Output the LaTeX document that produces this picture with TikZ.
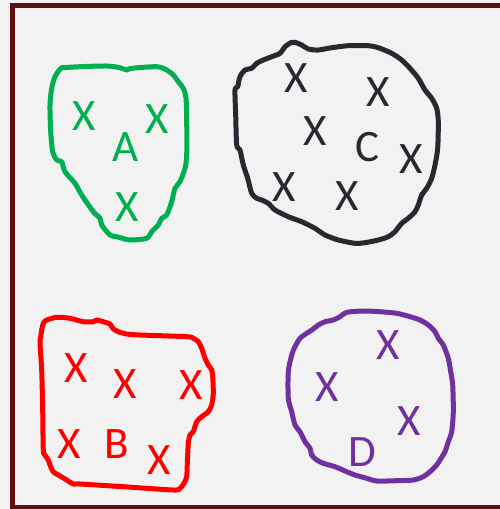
\documentclass[tikz,border=0pt]{standalone}
\usepackage{fontspec}
\setmainfont{Carlito}
\usepackage{tikz}

\definecolor{framered}{RGB}{96,16,16}
\definecolor{paper}{RGB}{242,242,242}
\definecolor{clgreen}{RGB}{0,176,80}
\definecolor{clred}{RGB}{255,0,0}
\definecolor{clpurple}{RGB}{112,48,160}
\definecolor{cldark}{RGB}{40,40,48}

\begin{document}
\begin{tikzpicture}[x=1pt,y=-1pt,font=\fontsize{45}{45}\selectfont,
  blob/.style={line width=5pt,line join=round}]
  % sheet and frame
  \fill[paper] (0,0) rectangle (500,509);
  \clip (0,0) rectangle (500,509);
  \draw[framered,line width=5pt,fill=paper] (12.5,5.5) rectangle (520,507);
  % cluster A
  \draw[blob,clgreen] plot[smooth cycle,tension=0.45] coordinates {
    (60.7,68.3) (55,76.7) (51.7,88.3) (50,105) (50.7,131.7) (52.7,151.7) (56.7,160) (61.7,161.7)
    (65,171.7) (75,183.3) (81.7,195) (93.3,211.7) (100,218.3) (101.7,225) (110,235) (116.7,236.7)
    (130,240) (146.7,238.3) (151.7,231.7) (158.3,225) (161.7,218.3) (166.7,215) (171.7,201.7)
    (175,188.3) (180,181.7) (185,168.3) (186.7,155) (186.7,121.7) (186,98.3) (183.3,88.3)
    (178.3,81.7) (173.3,75) (166.7,70) (156.7,66.7) (131.7,68.3) (126.7,70) (120,67.7)
    (106.7,66) (80,66.7) (63.3,67.7)};
  \foreach \x/\y/\n in {84/116/1,157/119/2,127/207/3} {\node[clgreen] (a\n) at (\x,\y) {X};}
  \node[clgreen] (labA) at (126,147) {A};
  % cluster C
  \draw[blob,cldark] plot[smooth cycle,tension=0.45] coordinates {
    (291.7,42.3) (285,46.7) (280,53.3) (271.7,56.7) (263.3,60) (256.7,63.3) (251.7,68.3) (245,70)
    (240,76.7) (237.7,86.7) (235,90) (235.7,115) (236.7,145) (240,150) (243.3,165) (247.7,178.3)
    (251.7,193.3) (256.7,198.3) (261.7,200) (268.3,203.3) (275,210) (288.3,216.7) (301.7,221.7)
    (315,228.3) (325,235) (338.3,240) (355,243.3) (365,242.7) (378.3,240) (388.3,236.7)
    (395,231.7) (401.7,223.3) (408.3,218.3) (415,211.7) (418.3,205) (421.7,195) (426.7,188.3)
    (431.7,178.3) (435,165) (437.7,148.3) (438.3,121.7) (436.7,108.3) (431.7,98.3) (425,90)
    (418.3,78.3) (410,68.3) (401.7,60) (391.7,53.3) (378.3,47.7) (368.3,45.7) (348.3,45.7)
    (331.7,47.7) (318.3,50) (308.3,49) (301.7,45) (295,42.3)};
  \foreach \x/\y/\n in {296/78/1,378/92/2,315/131/3,411/159/4,284/187/5,347/196/6} {\node[cldark] (c\n) at (\x,\y) {X};}
  \node[cldark] (labC) at (367,147) {C};
  % cluster B
  \draw[blob,clred] plot[smooth cycle,tension=0.45] coordinates {
    (43.3,323.3) (46.7,320) (56.7,317.3) (70,318.3) (83.3,321.7) (93.3,321.7) (96.7,320)
    (103.3,321.7) (110,324) (112.7,328.3) (118.3,331.7) (126.7,334) (140,335) (186.7,336.7)
    (193.3,338.3) (198.3,341.7) (201.7,348.3) (205,358.3) (208.3,365) (211.7,370) (212.7,376.7)
    (213.3,393.3) (211.7,405) (208.3,411.7) (201.7,416.7) (196.7,421.7) (193.3,431.7) (190,435)
    (188.3,443.3) (187.3,463.3) (186.7,476.7) (184,483.3) (180,488.3) (173.3,490) (123.3,486.7)
    (80,484) (73.3,484) (66.7,480) (60,476) (53.3,471.7) (50,465) (48.3,460) (45,455) (43.3,450)
    (42.7,410) (41.7,370) (40,343.3) (40.7,336.7) (41.7,330)};
  \foreach \x/\y/\n in {76/368/1,125/384/2,191/385/3,69/444/4,159/460/5} {\node[clred] (b\n) at (\x,\y) {X};}
  \node[clred] (labB) at (117,444) {B};
  % cluster D
  \draw[blob,clpurple] plot[smooth cycle,tension=0.45] coordinates {
    (346.7,312.3) (363.3,311) (380,311.7) (396.7,313.3) (410,316.7) (420,320) (428.3,325)
    (435,331.7) (438.3,338.3) (443.3,345) (448.3,358.3) (450.7,371.7) (452.7,385) (453.3,411.7)
    (451.7,431.7) (448.3,441.7) (445,451.7) (440,460) (436.7,465) (430,471.7) (423.3,476.7)
    (413.3,480) (396.7,480.7) (376.7,481) (366.7,478.3) (355,475) (346.7,471.7) (335,466.7)
    (323.3,463.3) (316.7,460) (311.7,455) (310,448.3) (305,441.7) (300,431.7) (295,425)
    (291.7,411.7) (288.3,398.3) (288.3,371.7) (291.7,355) (295,346.7) (300,338.3) (306.7,333.3)
    (313.3,329) (318.3,325) (325,321.7) (333.3,320) (340,316.7)};
  \foreach \x/\y/\n in {388/345/1,327/387/2,409/421/3} {\node[clpurple] (d\n) at (\x,\y) {X};}
  \node[clpurple] (labD) at (362,452) {D};
\end{tikzpicture}
\end{document}
